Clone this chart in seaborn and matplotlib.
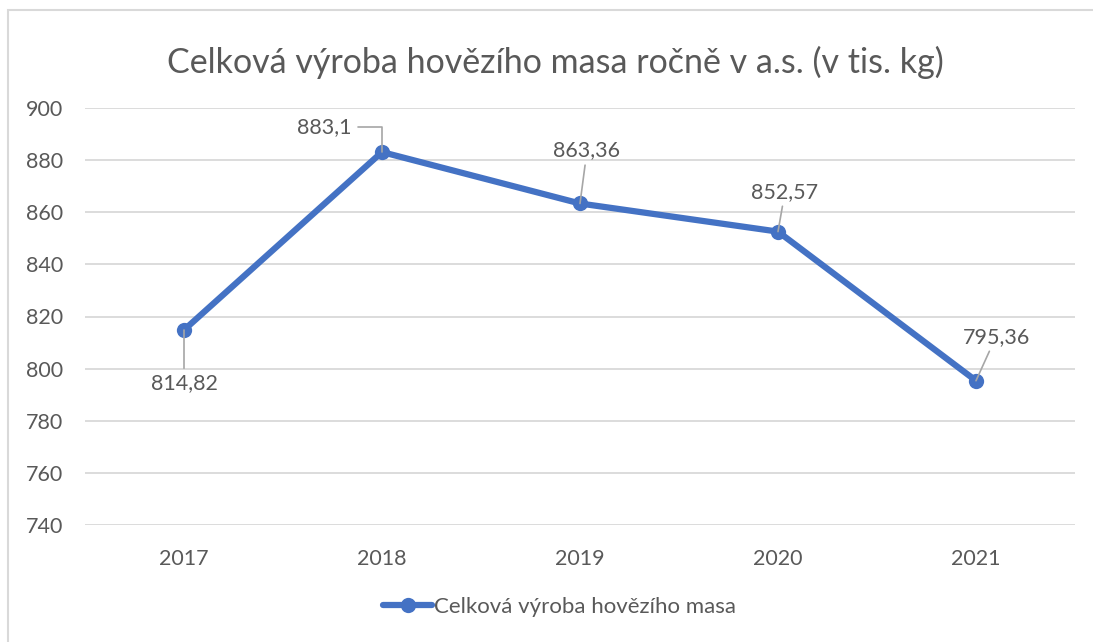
import matplotlib
matplotlib.use("Agg")
import matplotlib.pyplot as plt
import matplotlib.patches as mpatches
import seaborn as sns
import pandas as pd

# ---- data ----
years = ["2017", "2018", "2019", "2020", "2021"]
values = [814.82, 883.1, 863.36, 852.57, 795.36]
value_labels = ["814,82", "883,1", "863,36", "852,57", "795,36"]
yticks = [740, 760, 780, 800, 820, 840, 860, 880, 900]
series_name = "Celková výroba hovězího masa"
title = "Celková výroba hovězího masa ročně v a.s. (v tis. kg)"

sns.set_theme(style="white")
plt.rcParams['font.family'] = ['Lato', 'DejaVu Sans']

TXT = "#595959"
LINE = "#4472C4"
GRID = "#D9D9D9"
LEAD = "#A6A6A6"

W, H = 1093, 642
fig = plt.figure(figsize=(W / 100, H / 100), dpi=100)
fig.patch.set_facecolor("white")
ax = fig.add_axes([85 / W, 117 / H, 990 / W, 417 / H])

df = pd.DataFrame({"Rok": years, "Vyroba": values})
sns.lineplot(data=df, x="Rok", y="Vyroba", ax=ax, color=LINE, linewidth=4.5,
             marker="o", markersize=11, markeredgewidth=0, sort=False,
             label=series_name)

ax.set_xlim(-0.5, 4.5)
ax.set_ylim(740, 900)
ax.set_yticks(yticks)
ax.set_xlabel("")
ax.set_ylabel("")
ax.yaxis.grid(True, color=GRID, linewidth=1.3)
ax.xaxis.grid(False)
ax.set_axisbelow(True)
for s in ax.spines.values():
    s.set_visible(False)
ax.tick_params(axis="both", length=0, labelsize=15.5, labelcolor=TXT)
ax.tick_params(axis="y", pad=16)
ax.tick_params(axis="x", pad=17)

# data labels (offsets in pixels)
offsets = [(0, -53), (-31, 25), (7, 53), (7, 40), (20, 44)]
for i, (lab, val, off) in enumerate(zip(value_labels, values, offsets)):
    if i == 1:
        ax.annotate(lab, xy=(i, val), xytext=off, textcoords="offset pixels",
                    ha="right", va="center", fontsize=15.5, color=TXT,
                    arrowprops=dict(arrowstyle="-", color=LEAD, lw=1.2,
                                    connectionstyle="angle,angleA=0,angleB=90,rad=0",
                                    relpos=(1, 0.5), shrinkA=3, shrinkB=0))
    else:
        ax.annotate(lab, xy=(i, val), xytext=off, textcoords="offset pixels",
                    ha="center", va="center", fontsize=15.5, color=TXT,
                    arrowprops=dict(arrowstyle="-", color=LEAD, lw=1.2,
                                    shrinkA=1, shrinkB=0))

handles, labels = ax.get_legend_handles_labels()
ax.get_legend().remove()
leg = fig.legend(handles, labels, loc="center", bbox_to_anchor=(0.512, 1 - 607 / H),
                 frameon=False, fontsize=16, handlelength=2.2, handletextpad=0.1)
for t in leg.get_texts():
    t.set_color(TXT)

fig.text(555.5 / W, 1 - 62 / H, title, ha="center", va="center",
         fontsize=24.5, color=TXT)

# chart border
fig.patches.append(mpatches.Rectangle((8 / W, -0.1), 1.2, (H - 10) / H + 0.1,
                                      transform=fig.transFigure, fill=False,
                                      edgecolor=GRID, linewidth=1.5))

fig.savefig("out.png", dpi=100)
